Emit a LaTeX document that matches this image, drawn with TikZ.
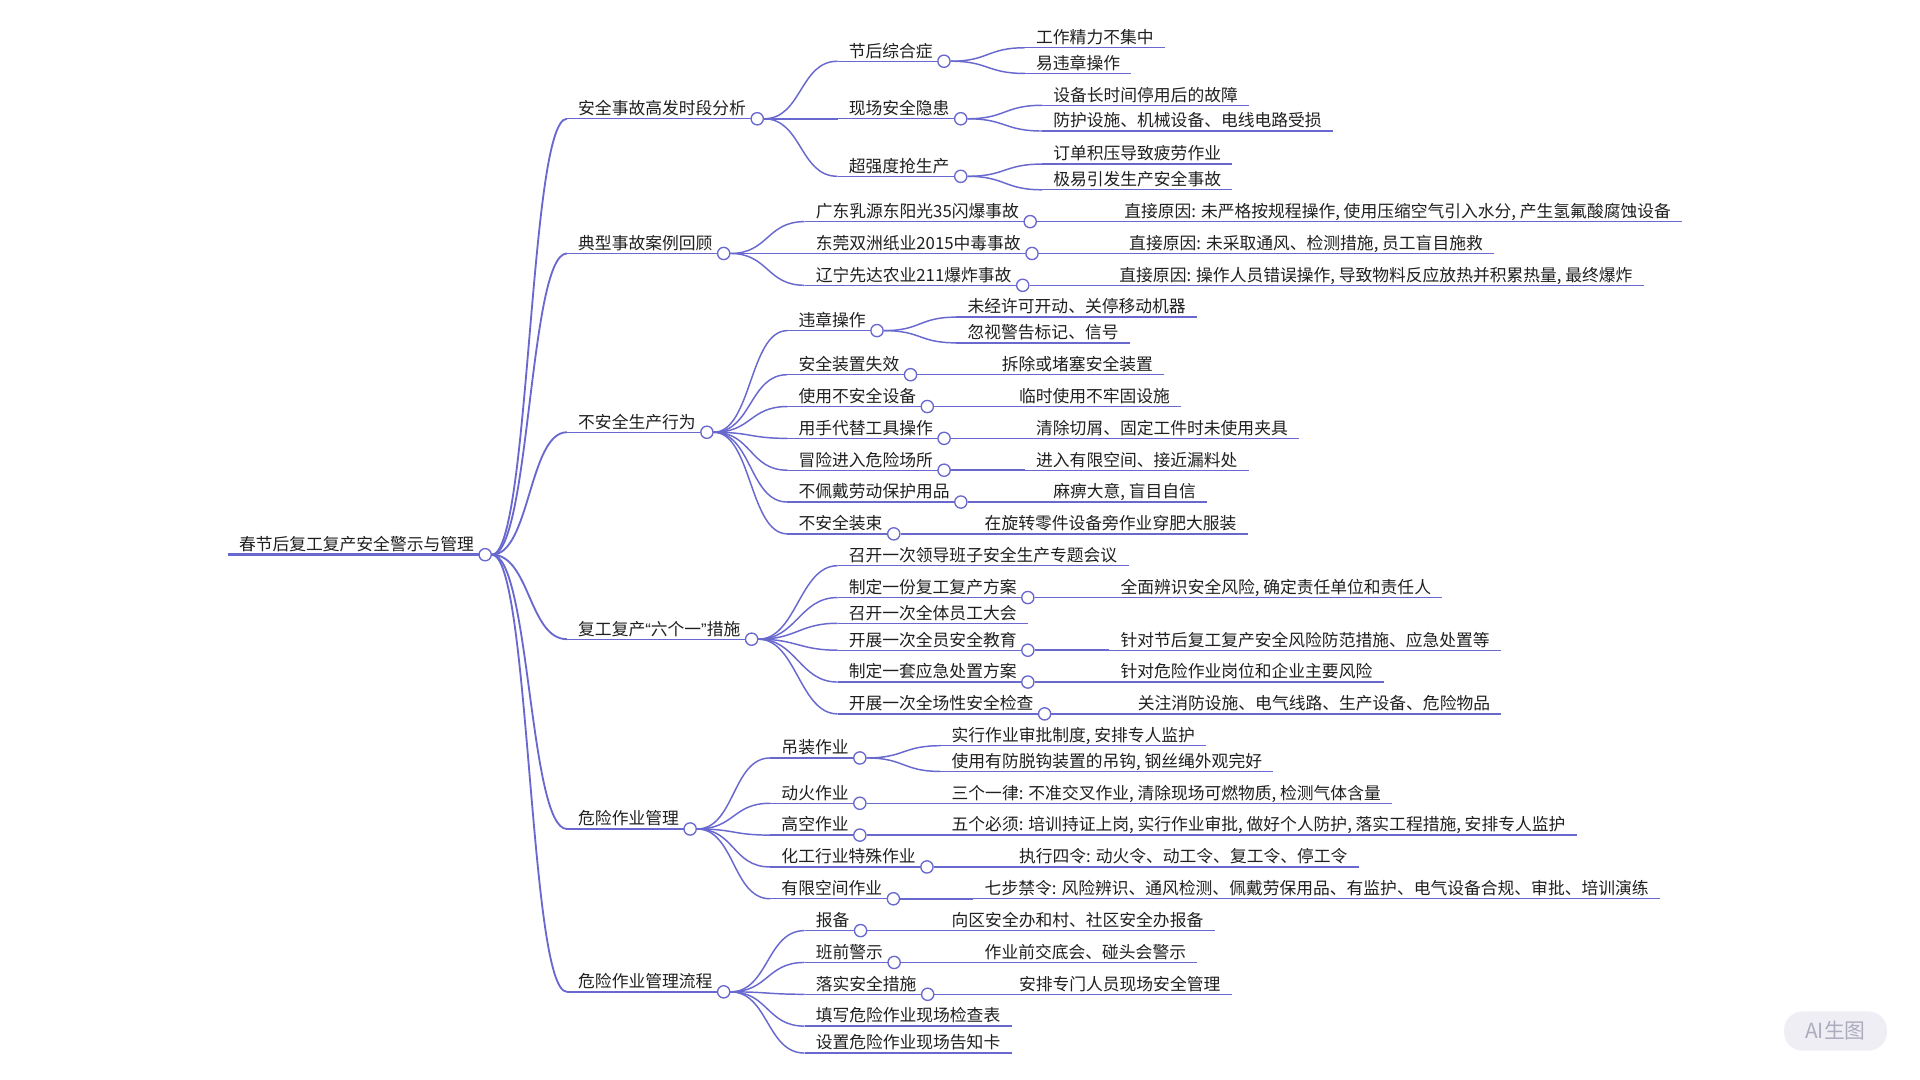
\documentclass[tikz,border=0pt]{standalone}
\usepackage{fontspec}
\setmainfont{Noto Sans CJK SC}
\newfontfamily\quotefont{Liberation Sans}
\usetikzlibrary{positioning}
\definecolor{mmline}{RGB}{104,104,206}
\definecolor{wmfill}{RGB}{238,238,244}
\definecolor{wmtext}{RGB}{172,172,190}

\begin{document}
\begin{tikzpicture}[x=1pt,y=-1pt,
	topic/.style={anchor=south west,inner xsep=9pt,inner ysep=2pt,text height=10.5pt,text depth=1.2pt,font=\fontsize{13.7}{16}\selectfont,text=black!88},
	knob/.style={circle,draw=mmline,fill=white,line width=1.1pt,minimum size=10pt,inner sep=0pt},
	uline/.style={draw=mmline,line width=1.1pt},
	branch/.style={draw=mmline,line width=1.2pt,to path={.. controls +(31pt,0) and +(-31pt,0) .. (\tikztotarget)}}]
	\useasboundingbox (0,0) rectangle (1568,882);

	\node[topic] (root) at (186,453) {春节后复工复产安全警示与管理};

	\node[topic] (ana) at (463,97) {安全事故高发时段分析};
	\node[topic] (case) at (463,207) {典型事故案例回顾};
	\node[topic] (act) at (463,353) {不安全生产行为};
	\node[topic] (six) at (463,522) {复工复产{\quotefont “}六个一{\quotefont ”}措施};
	\node[topic] (haz) at (463,677) {危险作业管理};
	\node[topic] (flow) at (463,810) {危险作业管理流程};

	% high-risk periods
	\node[topic] (ana1) at (684,50) {节后综合症};
	\node[topic] (ana2) at (684,97) {现场安全隐患};
	\node[topic] (ana3) at (684,144) {超强度抢生产};
	\node[topic] (ana1a) at (837,39) {工作精力不集中};
	\node[topic] (ana1b) at (837,60) {易违章操作};
	\node[topic] (ana2a) at (851,86) {设备长时间停用后的故障};
	\node[topic] (ana2b) at (851,107) {防护设施、机械设备、电线电路受损};
	\node[topic] (ana3a) at (851,134) {订单积压导致疲劳作业};
	\node[topic] (ana3b) at (851,155) {极易引发生产安全事故};

	% accident cases
	\node[topic] (case1) at (657,181) {广东乳源东阳光35闪爆事故};
	\node[topic] (case2) at (657,207) {东莞双洲纸业2015中毒事故};
	\node[topic] (case3) at (657,233) {辽宁先达农业211爆炸事故};
	\node[topic] (case1a) at (909,181) {直接原因: 未严格按规程操作, 使用压缩空气引入水分, 产生氢氟酸腐蚀设备};
	\node[topic] (case2a) at (913,207) {直接原因: 未采取通风、检测措施, 员工盲目施救};
	\node[topic] (case3a) at (905,233) {直接原因: 操作人员错误操作, 导致物料反应放热并积累热量, 最终爆炸};

	% unsafe acts
	\node[topic] (act1) at (643,270) {违章操作};
	\node[topic] (act2) at (643,306) {安全装置失效};
	\node[topic] (act3) at (643,332) {使用不安全设备};
	\node[topic] (act4) at (643,358) {用手代替工具操作};
	\node[topic] (act5) at (643,384) {冒险进入危险场所};
	\node[topic] (act6) at (643,410) {不佩戴劳动保护用品};
	\node[topic] (act7) at (643,436) {不安全装束};
	\node[topic] (act1a) at (781,259) {未经许可开动、关停移动机器};
	\node[topic] (act1b) at (781,280) {忽视警告标记、信号};
	\node[topic] (act2a) at (809,306) {拆除或堵塞安全装置};
	\node[topic] (act3a) at (823,332) {临时使用不牢固设施};
	\node[topic] (act4a) at (837,358) {清除切屑、固定工件时未使用夹具};
	\node[topic] (act5a) at (837,384) {进入有限空间、接近漏料处};
	\node[topic] (act6a) at (851,410) {麻痹大意, 盲目自信};
	\node[topic] (act7a) at (795,436) {在旋转零件设备旁作业穿肥大服装};

	% six measures
	\node[topic] (six1) at (684,462) {召开一次领导班子安全生产专题会议};
	\node[topic] (six2) at (684,488) {制定一份复工复产方案};
	\node[topic] (six3) at (684,509) {召开一次全体员工大会};
	\node[topic] (six4) at (684,531) {开展一次全员安全教育};
	\node[topic] (six5) at (684,557) {制定一套应急处置方案};
	\node[topic] (six6) at (684,583) {开展一次全场性安全检查};
	\node[topic] (six2a) at (906,488) {全面辨识安全风险, 确定责任单位和责任人};
	\node[topic] (six4a) at (906,531) {针对节后复工复产安全风险防范措施、应急处置等};
	\node[topic] (six5a) at (906,557) {针对危险作业岗位和企业主要风险};
	\node[topic] (six6a) at (920,583) {关注消防设施、电气线路、生产设备、危险物品};

	% hazardous work
	\node[topic] (haz1) at (629,619) {吊装作业};
	\node[topic] (haz2) at (629,656) {动火作业};
	\node[topic] (haz3) at (629,682) {高空作业};
	\node[topic] (haz4) at (629,708) {化工行业特殊作业};
	\node[topic] (haz5) at (629,734) {有限空间作业};
	\node[topic] (haz1a) at (768,609) {实行作业审批制度, 安排专人监护};
	\node[topic] (haz1b) at (768,630) {使用有防脱钩装置的吊钩, 钢丝绳外观完好};
	\node[topic] (haz2a) at (768,656) {三个一律: 不准交叉作业, 清除现场可燃物质, 检测气体含量};
	\node[topic] (haz3a) at (768,682) {五个必须: 培训持证上岗, 实行作业审批, 做好个人防护, 落实工程措施, 安排专人监护};
	\node[topic] (haz4a) at (823,708) {执行四令: 动火令、动工令、复工令、停工令};
	\node[topic] (haz5a) at (795,734) {七步禁令: 风险辨识、通风检测、佩戴劳保用品、有监护、电气设备合规、审批、培训演练};

	% process
	\node[topic] (flow1) at (657,760) {报备};
	\node[topic] (flow2) at (657,786) {班前警示};
	\node[topic] (flow3) at (657,812) {落实安全措施};
	\node[topic] (flow4) at (657,838) {填写危险作业现场检查表};
	\node[topic] (flow5) at (657,860) {设置危险作业现场告知卡};
	\node[topic] (flow1a) at (768,760) {向区安全办和村、社区安全办报备};
	\node[topic] (flow2a) at (795,786) {作业前交底会、碰头会警示};
	\node[topic] (flow3a) at (823,812) {安排专门人员现场安全管理};

	% underlines
	\draw[uline,line width=2pt] (root.south west) -- (root.south east);
	\foreach \n in {ana,case,act,six,haz,flow,
		ana1,ana2,ana3,ana1a,ana1b,ana2a,ana2b,ana3a,ana3b,
		case1,case2,case3,case1a,case2a,case3a,
		act1,act2,act3,act4,act5,act6,act7,act1a,act1b,act2a,act3a,act4a,act5a,act6a,act7a,
		six1,six2,six3,six4,six5,six6,six2a,six4a,six5a,six6a,
		haz1,haz2,haz3,haz4,haz5,haz1a,haz1b,haz2a,haz3a,haz4a,haz5a,
		flow1,flow2,flow3,flow4,flow5,flow1a,flow2a,flow3a}
		\draw[uline] (\n.south west) -- (\n.south east);

	% knobs
	\foreach \n in {root,ana,case,act,six,haz,flow,ana1,ana2,ana3,case1,case2,case3,
		act1,act2,act3,act4,act5,act6,act7,six2,six4,six5,six6,
		haz1,haz2,haz3,haz4,haz5,flow1,flow2,flow3}
		\node[knob] (\n-c) at (\n.south east) {};

	% branches
	\foreach \p/\c in {root/ana,root/case,root/act,root/six,root/haz,root/flow}
		\path (\p-c.east) edge[branch,line width=1.5pt] (\c.south west);
	\foreach \p/\c in {ana/ana1,ana/ana2,ana/ana3,ana1/ana1a,ana1/ana1b,ana2/ana2a,ana2/ana2b,ana3/ana3a,ana3/ana3b,
		case/case1,case/case2,case/case3,case1/case1a,case2/case2a,case3/case3a,
		act/act1,act/act2,act/act3,act/act4,act/act5,act/act6,act/act7,
		act1/act1a,act1/act1b,act2/act2a,act3/act3a,act4/act4a,act5/act5a,act6/act6a,act7/act7a,
		six/six1,six/six2,six/six3,six/six4,six/six5,six/six6,six2/six2a,six4/six4a,six5/six5a,six6/six6a,
		haz/haz1,haz/haz2,haz/haz3,haz/haz4,haz/haz5,haz1/haz1a,haz1/haz1b,haz2/haz2a,haz3/haz3a,haz4/haz4a,haz5/haz5a,
		flow/flow1,flow/flow2,flow/flow3,flow/flow4,flow/flow5,flow1/flow1a,flow2/flow2a,flow3/flow3a}
		\path (\p-c.east) edge[branch] (\c.south west);

	% badge
	\node[fill=wmfill,rounded corners=15pt,minimum width=84pt,minimum height=32pt,text=wmtext,font=\fontsize{17}{20}\selectfont] (badge) at (1499,842) {AI生图};
\end{tikzpicture}
\end{document}
